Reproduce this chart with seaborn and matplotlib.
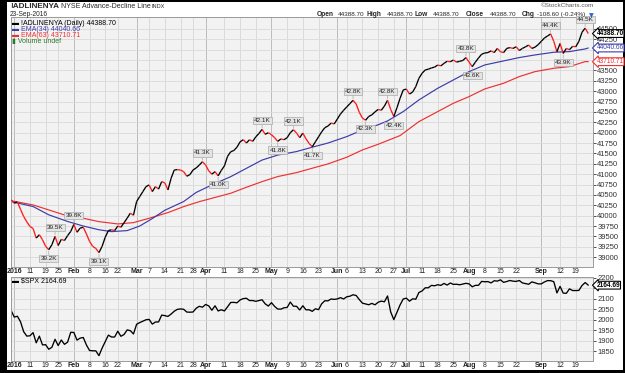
import numpy as np
import pandas as pd
import matplotlib.pyplot as plt
from matplotlib.collections import LineCollection
from matplotlib.patches import Rectangle
import seaborn as sns

# %% values (one per trading day, 31-Dec-2015 .. 23-Sep-2016)
holidays = ["2016-01-01", "2016-01-18", "2016-02-15", "2016-03-25", "2016-05-30",
            "2016-07-04", "2016-09-05"]
dates = pd.bdate_range("2015-12-31", "2016-09-23")
dates = dates[~dates.isin(pd.to_datetime(holidays))]
days = np.arange(len(dates))

adl = np.array([
    # dec 31 + jan
    40380, 40300, 40330, 40150, 39980, 39850, 39740, 39690, 39460, 39540,
    39420, 39260, 39180, 39300, 39500, 39280, 39430, 39400, 39520, 39620,
    # feb
    39790, 39600, 39700, 39720, 39560, 39380, 39260, 39210, 39110, 39260,
    39480, 39640, 39660, 39640, 39750, 39720, 39830, 39940, 40060, 40010,
    # mar
    40340, 40460, 40580, 40700, 40740, 40580, 40700, 40640, 40820, 40790,
    40620, 40900, 41100, 41110, 41100, 41060, 40950, 40990, 41100, 41150,
    41220, 41300,
    # apr
    41220, 41080, 41000, 41060, 40960, 41090, 41200, 41430, 41540, 41570,
    41650, 41780, 41830, 41750, 41830, 41790, 41900, 41980, 42080, 41960,
    42000,
    # may
    41950, 41880, 41790, 41850, 41830, 41880, 42000, 42070, 41990, 41880,
    41990, 41850, 41740, 41660, 41780, 41900, 42020, 42120, 42160, 42230,
    42210,
    # jun
    42330, 42450, 42540, 42620, 42700, 42780, 42690, 42490, 42350, 42300,
    42390, 42430, 42500, 42560, 42540, 42640, 42780, 42560, 42390, 42600,
    42830, 43030,
    # jul
    43050, 42930, 42980, 43110, 43310, 43430, 43510, 43530, 43560, 43580,
    43630, 43610, 43670, 43720, 43710, 43750, 43700, 43720, 43740, 43810,
    # aug
    43700, 43590, 43700, 43800, 43890, 43920, 43930, 43970, 43930, 44030,
    43950, 43930, 44030, 44050, 44030, 44070, 43980, 44030, 44070, 44110,
    44030, 44060, 44120,
    # sep
    44200, 44280, 44330, 44380, 44200, 43950, 44150, 43910, 44030, 44000,
    44080, 44070, 44200, 44420, 44520, 44388.70,
])

spx = np.array([
    2043.94,
    2012.66, 2016.71, 1990.26, 1943.09, 1922.03, 1923.67, 1938.68, 1890.28, 1921.84, 1880.33,
    1881.33, 1859.33, 1868.99, 1906.90, 1877.08, 1903.63, 1882.95, 1893.36, 1940.24,
    1939.38, 1903.03, 1912.53, 1915.45, 1880.05, 1853.44, 1852.21, 1851.86, 1829.08, 1864.78,
    1895.58, 1926.82, 1917.83, 1917.78, 1945.50, 1921.27, 1929.80, 1951.70, 1948.05, 1932.23,
    1978.35, 1986.45, 1993.40, 1999.99, 2001.76, 1979.26, 1989.26, 1989.57, 2022.19, 2019.64,
    2015.93, 2027.22, 2040.59, 2049.58, 2051.60, 2049.80, 2036.71, 2035.94, 2037.05, 2055.01,
    2063.95, 2059.74,
    2072.78, 2066.13, 2045.17, 2066.66, 2041.91, 2047.60, 2041.99, 2061.72, 2082.42, 2082.78,
    2080.73, 2094.34, 2100.80, 2102.40, 2091.48, 2091.58, 2087.79, 2091.70, 2095.15, 2075.81,
    2065.30,
    2081.43, 2063.37, 2051.12, 2050.63, 2057.14, 2058.69, 2084.39, 2064.46, 2064.11, 2046.61,
    2066.66, 2047.21, 2047.63, 2040.04, 2052.32, 2048.04, 2076.06, 2090.54, 2090.10, 2099.06,
    2096.95,
    2099.33, 2105.26, 2099.13, 2109.41, 2112.13, 2119.12, 2115.48, 2096.07, 2079.06, 2075.32,
    2071.50, 2077.99, 2071.22, 2083.25, 2088.90, 2085.45, 2113.32, 2037.41, 2000.54, 2036.09,
    2070.77, 2098.86,
    2102.95, 2088.55, 2099.73, 2097.90, 2129.90, 2137.16, 2152.14, 2152.43, 2163.75, 2161.74,
    2166.89, 2163.78, 2173.02, 2165.17, 2175.03, 2168.48, 2169.18, 2166.58, 2170.06, 2173.60,
    2170.84, 2157.03, 2163.79, 2164.25, 2182.87, 2180.89, 2181.74, 2175.49, 2185.79, 2184.05,
    2190.15, 2178.15, 2182.22, 2187.02, 2183.87, 2182.64, 2186.90, 2175.44, 2172.47, 2169.04,
    2180.38, 2176.12, 2170.95,
    2170.86, 2179.98, 2186.48, 2186.16, 2181.30, 2127.81, 2159.04, 2127.02, 2125.77, 2147.26,
    2139.16, 2139.12, 2139.76, 2163.12, 2177.18, 2164.69,
])

# moving averages, read at roughly weekly spots
ema34_days = [0, 7, 12, 18, 23, 28, 32, 37, 41, 45, 49, 55, 59, 64, 70, 75, 80, 85, 91, 96,
              101, 107, 112, 117, 120, 125, 130, 136, 141, 146, 151, 157, 162, 167, 173, 178, 183, 184]
ema34 = [40340, 40220, 40020, 39860, 39750, 39660, 39615, 39640, 39750, 39930, 40130, 40340,
         40560, 40740, 40940, 41140, 41340, 41460, 41545, 41650, 41750, 41905, 42066, 42190,
         42283, 42508, 42789, 43070, 43271, 43471, 43632, 43729, 43810, 43873, 43938, 43953,
         44018, 44040.66]
ema63_days = [0, 7, 12, 18, 23, 28, 34, 39, 44, 50, 55, 60, 70, 75, 80, 85, 91, 96, 101, 107,
              112, 117, 124, 130, 136, 141, 146, 151, 157, 162, 167, 173, 178, 183, 184]
ema63 = [40360, 40258, 40138, 39993, 39937, 39856, 39800, 39832, 39937, 40074, 40218, 40338,
         40540, 40684, 40820, 40942, 41038, 41143, 41247, 41408, 41584, 41720, 41930, 42266,
         42508, 42709, 42869, 43054, 43191, 43351, 43471, 43552, 43592, 43713, 43710.71]

peak_days = [14, 20, 61, 80, 90, 109, 120, 145, 172, 183]
trough_days = [12, 28, 66, 85, 96, 113, 122, 147, 176]

tick_dates = ["2016-01-04", "2016-01-11", "2016-01-19", "2016-01-25", "2016-02-01", "2016-02-08",
              "2016-02-16", "2016-02-22", "2016-03-01", "2016-03-07", "2016-03-14", "2016-03-21",
              "2016-03-28", "2016-04-01", "2016-04-11", "2016-04-18", "2016-04-25", "2016-05-02",
              "2016-05-09", "2016-05-16", "2016-05-23", "2016-06-01", "2016-06-06", "2016-06-13",
              "2016-06-20", "2016-06-27", "2016-07-01", "2016-07-11", "2016-07-18", "2016-07-25",
              "2016-08-01", "2016-08-08", "2016-08-15", "2016-08-22", "2016-09-01", "2016-09-12",
              "2016-09-19"]
tick_labels = ["2016", "11", "19", "25", "Feb", "8", "16", "22", "Mar", "7", "14", "21", "28",
               "Apr", "11", "18", "25", "May", "9", "16", "23", "Jun", "6", "13", "20", "27",
               "Jul", "11", "18", "25", "Aug", "8", "15", "22", "Sep", "12", "19"]

# price-axis labels that sit under the value tags
hidden_top = [44000, 43750]
hidden_bottom = [2150]

# %% style
sns.set_theme(style="whitegrid")
plt.rcParams["font.family"] = ["Liberation Sans", "DejaVu Sans"]

BG = "#f2f2f2"
GRID = "#dadada"
MONTH_GRID = "#bcbcbc"
BLUE = "#3c3ca8"
RED = "#f03030"

fig = plt.figure(figsize=(6.25, 3.73), dpi=100, facecolor="black")
fig.add_artist(Rectangle((0.0115, 0.008), 0.986, 0.987, transform=fig.transFigure,
                         fc="white", ec="none", zorder=0))

ax1 = fig.add_axes([0.0168, 0.285, 0.932, 0.6686])
ax2 = fig.add_axes([0.0168, 0.033, 0.932, 0.224])

tick_pos = [int(np.where(dates == pd.Timestamp(d))[0][0]) for d in tick_dates]
month_pos = [p for p, lab in zip(tick_pos, tick_labels) if not lab.isdigit() or lab == "2016"]

for ax in (ax1, ax2):
    ax.set_facecolor(BG)
    ax.grid(False)
    for p in tick_pos:
        ax.axvline(p, color=MONTH_GRID if p in month_pos else GRID, lw=0.7, zorder=0)
    ax.set_xlim(-0.2, 185.5)
    ax.set_xticks(tick_pos)
    ax.set_xticklabels(tick_labels)
    ax.tick_params(axis="x", length=0, pad=1.2, labelsize=5, colors="#222222")
    for lab in ax.get_xticklabels():
        if not lab.get_text().isdigit() or lab.get_text() == "2016":
            lab.set_fontweight("bold")
    ax.yaxis.tick_right()
    ax.tick_params(axis="y", length=2, width=0.6, pad=1, labelsize=5.5, colors="#333333",
                   right=True, left=False)
    for s in ax.spines.values():
        s.set_color("#9a9a9a")
        s.set_linewidth(0.7)

# %% top panel: A/D line with up (black) / down (red) segments
ax1.set_ylim(38770, 44780)
yt = np.arange(39000, 44501, 250)
ax1.set_yticks(yt)
ax1.set_yticklabels(["" if v in hidden_top else f"{v}" for v in yt])
for v in yt:
    ax1.axhline(v, color=GRID, lw=0.6, zorder=0)

sns.lineplot(x=ema63_days, y=ema63, ax=ax1, color=RED, lw=0.85)
sns.lineplot(x=ema34_days, y=ema34, ax=ax1, color=BLUE, lw=0.85)

segs = [[(days[k], adl[k]), (days[k + 1], adl[k + 1])] for k in range(len(adl) - 1)]
cols = ["#ff1a1a" if adl[k + 1] < adl[k] else "black" for k in range(len(adl) - 1)]
ax1.add_collection(LineCollection(segs, colors=cols, linewidths=0.95, zorder=3))

box = dict(boxstyle="square,pad=0.18", fc="#e4e4e4", ec="#a8a8a8", lw=0.5)
for d in peak_days:
    ax1.annotate(f"{adl[d] / 1000:.1f}K", xy=(d, adl[d]), xytext=(0, 4.5), textcoords="offset points",
                 ha="center", va="bottom", fontsize=4.6, color="#222222", bbox=box, zorder=5,
                 arrowprops=dict(arrowstyle="-", color="#a8a8a8", lw=0.5, shrinkA=0, shrinkB=1))
for d in trough_days:
    ax1.annotate(f"{adl[d] / 1000:.1f}K", xy=(d, adl[d]), xytext=(0, -4.5), textcoords="offset points",
                 ha="center", va="top", fontsize=4.6, color="#222222", bbox=box, zorder=5,
                 arrowprops=dict(arrowstyle="-", color="#a8a8a8", lw=0.5, shrinkA=0, shrinkB=1))

# legend block
leg = [("▬ !ADLINENYA (Daily) 44388.70", "black", 0.977),
       ("▬ EMA(34) 44040.66", BLUE, 0.953),
       ("▬ EMA(63) 43710.71", RED, 0.927),
       ("▮ Volume undef", "#2a7a2a", 0.901)]
for txt, c, yy in leg:
    ax1.text(0.003, yy, txt, transform=ax1.transAxes, fontsize=5, color=c, va="center",
             ha="left", zorder=6)


def tag(ax, value, text, color, bold=False):
    ax.annotate(text, xy=(1, value), xycoords=("axes fraction", "data"), xytext=(2.5, 0),
                textcoords="offset points", ha="left", va="center", fontsize=4.7,
                color="black" if bold else color, fontweight="bold" if bold else "normal",
                bbox=dict(boxstyle="larrow,pad=0.06", fc="white", ec=color, lw=0.8),
                annotation_clip=False, zorder=10)


tag(ax1, adl[-1], f"{adl[-1]:.2f}", "black", bold=True)
tag(ax1, ema34[-1], f"{ema34[-1]:.2f}", BLUE)
tag(ax1, ema63[-1], f"{ema63[-1]:.2f}", RED)

# %% bottom panel: S&P 500
ax2.set_ylim(1805, 2203)
yt2 = np.arange(1850, 2201, 50)
ax2.set_yticks(yt2)
ax2.set_yticklabels(["" if v in hidden_bottom else f"{v}" for v in yt2])
for v in yt2:
    ax2.axhline(v, color=GRID, lw=0.6, zorder=0)
sns.lineplot(x=days, y=spx, ax=ax2, color="black", lw=0.95)
ax2.text(0.003, 0.955, "▬ $SPX 2164.69", transform=ax2.transAxes, fontsize=5, color="black",
         va="center", ha="left")
tag(ax2, spx[-1], f"{spx[-1]:.2f}", "black", bold=True)

for ax in (ax1, ax2):
    ax.set_xlabel("")
    ax.set_ylabel("")

# %% header
fig.text(0.016, 0.983, "!ADLINENYA", fontsize=5.9, fontweight="bold", va="center")
fig.text(0.098, 0.983, "NYSE Advance-Decline Line", fontsize=5, va="center")
fig.text(0.243, 0.983, "INDX", fontsize=4, va="center")
fig.text(0.016, 0.961, "23-Sep-2016", fontsize=4.8, va="center")
fig.text(0.951, 0.986, "©StockCharts.com", fontsize=4.6, color="#555555", va="center", ha="right")

hdr = [("Open", 0.507, True), ("44388.70", 0.540, False), ("High", 0.587, True),
       ("44388.70", 0.619, False), ("Low", 0.663, True), ("44388.70", 0.693, False),
       ("Close", 0.745, True), ("44388.70", 0.783, False), ("Chg", 0.834, True),
       ("-108.60 (-0.24%)", 0.859, False)]
for txt, xx, b in hdr:
    fig.text(xx, 0.961, txt, fontsize=4.8 if b else 4.6, fontweight="bold" if b else "normal",
             va="center")
fig.text(0.942, 0.959, "▼", fontsize=4.5, color="#3060d0", va="center", family="DejaVu Sans")

fig.savefig("out.png", dpi=100, facecolor=fig.get_facecolor())
